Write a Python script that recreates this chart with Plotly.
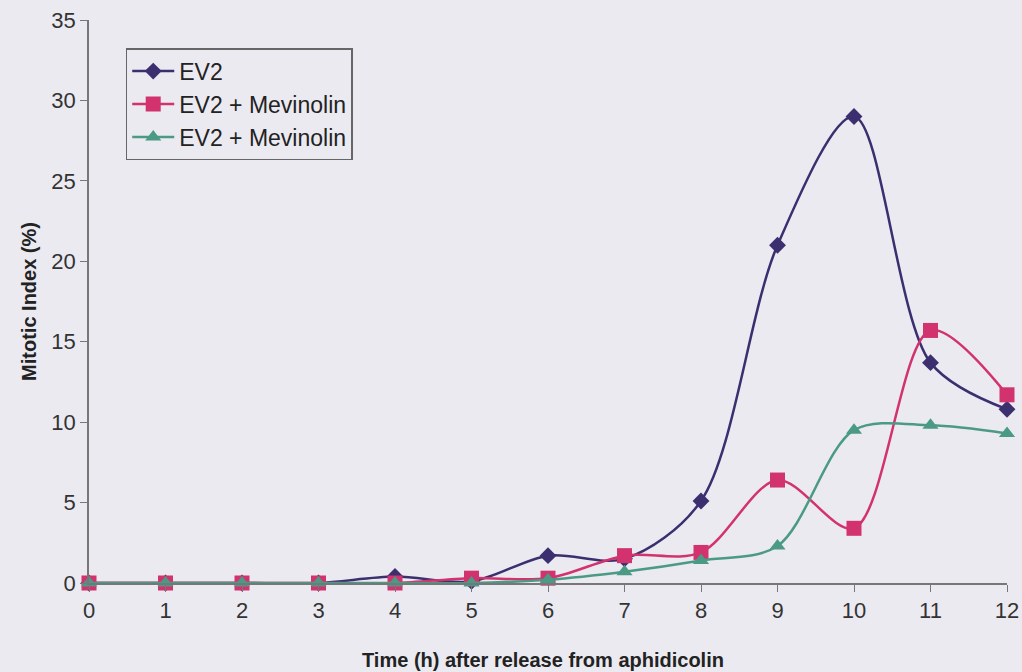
import plotly.graph_objects as go

hours = [0, 1, 2, 3, 4, 5, 6, 7, 8, 9, 10, 11, 12]
ev2 = [0, 0, 0, 0, 0.4, 0.1, 1.7, 1.5, 5.1, 21.0, 29.0, 13.7, 10.8]
ev2_mev_a = [0, 0, 0, 0, 0, 0.3, 0.3, 1.7, 1.9, 6.4, 3.4, 15.7, 11.7]
ev2_mev_b = [0, 0, 0, 0, 0, 0, 0.2, 0.7, 1.4, 2.3, 9.5, 9.8, 9.3]
names = ["EV2", "EV2 + Mevinolin", "EV2 + Mevinolin"]
colors = ["#3b2f6f", "#d2336e", "#4a9a86"]
symbols = ["diamond", "square", "triangle-up"]
sizes = [13, 15, 14]

fig = go.Figure()
for ys, nm, c, s, sz in zip([ev2, ev2_mev_a, ev2_mev_b], names, colors, symbols, sizes):
    fig.add_trace(go.Scatter(
        x=hours, y=ys, name=nm, mode="lines+markers",
        line=dict(color=c, width=2.5, shape="spline", smoothing=0.9),
        marker=dict(symbol=s, size=sz, color=c),
        cliponaxis=False,
    ))

bg = "#ebeaf1"
fig.update_layout(
    width=1022, height=672,
    paper_bgcolor=bg, plot_bgcolor=bg,
    margin=dict(l=89, r=15, t=20, b=89, autoexpand=False),
    font=dict(family="Liberation Sans, Arial, sans-serif", size=22, color="#333333"),
    showlegend=True,
    legend=dict(x=0.04, y=0.95, xanchor="left", yanchor="top",
                bgcolor="rgba(0,0,0,0)", bordercolor="#666666", borderwidth=1.5,
                font=dict(size=23, color="#222222"), tracegroupgap=0,
                itemwidth=42),
    xaxis=dict(range=[0, 12], tickvals=hours, ticks="outside", ticklen=7,
               tickcolor="#777777", showline=True, linecolor="#777777", linewidth=1.5,
               showgrid=False, zeroline=False, automargin=False),
    yaxis=dict(range=[0, 35], tickvals=[0, 5, 10, 15, 20, 25, 30, 35], ticks="outside",
               ticklen=7, tickcolor="#777777", showline=True, linecolor="#777777",
               linewidth=1.5, showgrid=False, zeroline=False, automargin=False),
    annotations=[
        dict(text="<b>Time (h) after release from aphidicolin</b>", xref="paper", yref="paper",
             x=0.495, y=-0.137, xanchor="center", yanchor="middle", showarrow=False,
             font=dict(size=20, color="#222222")),
        dict(text="<b>Mitotic Index (%)</b>", xref="paper", yref="paper",
             x=-0.066, y=0.5, xanchor="center", yanchor="middle", showarrow=False,
             textangle=-90, font=dict(size=20, color="#222222")),
    ],
)

fig.write_html(
    "out.html",
    config={"displayModeBar": False},
    post_script="document.body.style.margin='0';document.body.style.background='%s';"
                "document.documentElement.style.overflow='hidden';" % bg,
)
